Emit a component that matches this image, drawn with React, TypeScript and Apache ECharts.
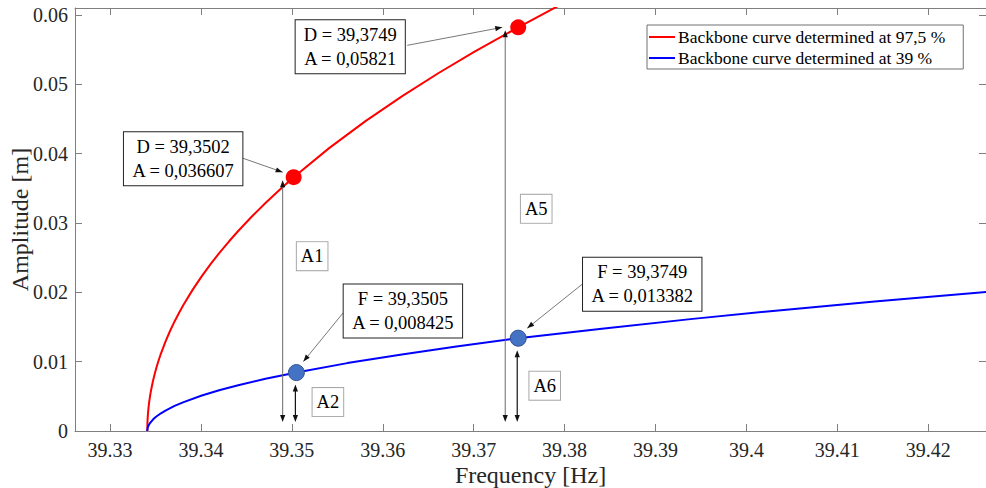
import React, { useEffect, useRef } from "react";
import * as echarts from "echarts";

const FONT = "Liberation Serif";

// Axis extents and tick positions
const xRange = [39.32615, 39.42635];
const yRange = [0, 0.061];
const xTicks = [39.33, 39.34, 39.35, 39.36, 39.37, 39.38, 39.39, 39.4, 39.41, 39.42];
const yTicks = [0, 0.01, 0.02, 0.03, 0.04, 0.05, 0.06];

// Backbone curve at 97,5 %
const redName = "Backbone curve determined at 97,5 %";
const redFreq = [
  39.3341, 39.33412, 39.33415, 39.3342, 39.33425, 39.3343, 39.3344, 39.3345, 39.3347, 39.3349,
  39.3351, 39.3353, 39.3356, 39.3361, 39.3366, 39.3371, 39.3376, 39.3381, 39.3391, 39.3401,
  39.3411, 39.3421, 39.3431, 39.3441, 39.3456, 39.3471, 39.3486, 39.3502, 39.3541, 39.3581,
  39.3621, 39.3661, 39.3701, 39.3749, 39.3801,
];
const redAmp = [
  0, 0.00129, 0.00204, 0.00288, 0.00353, 0.00408, 0.005, 0.00577, 0.00706, 0.00816,
  0.00912, 0.00999, 0.01117, 0.0129, 0.01442, 0.0158, 0.01706, 0.01824, 0.02039, 0.02234,
  0.02413, 0.0258, 0.02736, 0.02884, 0.03093, 0.03288, 0.03473, 0.036607, 0.04079, 0.04468,
  0.04826, 0.05159, 0.05472, 0.05821, 0.06186,
];

// Backbone curve at 39 %
const blueName = "Backbone curve determined at 39 %";
const blueFreq = [
  39.3341, 39.33412, 39.33415, 39.3342, 39.3343, 39.3344, 39.3347, 39.3349, 39.3351, 39.3356,
  39.3361, 39.3371, 39.3381, 39.3401, 39.3421, 39.3441, 39.3471, 39.3505, 39.3561, 39.3621,
  39.3681, 39.3749, 39.3841, 39.3941, 39.4041, 39.4141, 39.4265,
];
const blueAmp = [
  0, 0.000295, 0.000467, 0.00066, 0.000933, 0.00114, 0.00162, 0.001867, 0.00209, 0.002556,
  0.00295, 0.003615, 0.00417, 0.00511, 0.005903, 0.0066, 0.007525, 0.008425, 0.00979, 0.01104,
  0.01217, 0.013382, 0.01476, 0.01617, 0.01746, 0.01867, 0.02005,
];

// Highlighted points
const redPointD = [39.3502, 39.3749];
const redPointA = [0.036607, 0.05821];
const bluePointF = [39.3505, 39.3749];
const bluePointA = [0.008425, 0.013382];
const redTags = ["A1", "A5"];
const blueTags = ["A2", "A6"];

const comma = (v: number) => String(v).replace(".", ",");
const tickText = (v: number) => String(parseFloat(Number(v).toFixed(4)));

const AXIS_COLOR = "#7f7f7f";
const LABEL_COLOR = "#262626";

function head(tx: number, ty: number, fx: number, fy: number, len = 7, half = 2.6) {
  const dx = tx - fx;
  const dy = ty - fy;
  const l = Math.hypot(dx, dy) || 1;
  const ux = dx / l;
  const uy = dy / l;
  return {
    type: "polygon",
    silent: true,
    z: 20,
    shape: {
      points: [
        [tx, ty],
        [tx - ux * len - uy * half, ty - uy * len + ux * half],
        [tx - ux * len + uy * half, ty - uy * len - ux * half],
      ],
    },
    style: { fill: "#111" },
  };
}

function seg(x1: number, y1: number, x2: number, y2: number, color: string, w: number) {
  return {
    type: "line",
    silent: true,
    z: 19,
    shape: { x1, y1, x2, y2 },
    style: { stroke: color, lineWidth: w },
  };
}

function box(cx: number, cy: number, text: string, border: string, padding: number[], lh: number) {
  return {
    type: "text",
    x: cx,
    y: cy,
    z: 21,
    silent: true,
    style: {
      text,
      font: `18.5px ${FONT}`,
      fill: "#000",
      align: "center",
      verticalAlign: "middle",
      lineHeight: lh,
      backgroundColor: "#fff",
      borderColor: border,
      borderWidth: 1,
      padding,
    },
  };
}

export default function App() {
  const ref = useRef<HTMLDivElement>(null);

  useEffect(() => {
    if (!ref.current) return;
    const chart = echarts.init(ref.current, undefined, { renderer: "svg" });

    const tickStyle = (values: number[]) => ({
      show: true,
      inside: true,
      length: 7,
      customValues: values,
      lineStyle: { color: AXIS_COLOR, width: 1 },
    });

    const valueAxis = (extra: any) => ({
      type: "value",
      splitLine: { show: false },
      nameMoveOverlap: false,
      axisLine: { show: true, onZero: false, lineStyle: { color: AXIS_COLOR, width: 1 } },
      ...extra,
    });

    const labelStyle = {
      fontFamily: FONT,
      fontSize: 20,
      color: LABEL_COLOR,
      formatter: tickText,
    };

    chart.setOption({
      animation: false,
      backgroundColor: "#fff",
      textStyle: { fontFamily: FONT },
      grid: { left: 75, right: 0, top: 8, bottom: 57, containLabel: false, outerBoundsMode: "none" },
      legend: {
        data: [redName, blueName],
        orient: "vertical",
        left: 647,
        top: 25,
        padding: [1.5, 18, 0.5, 2],
        itemGap: 0,
        itemWidth: 26,
        itemHeight: 2,
        icon: "rect",
        backgroundColor: "#fff",
        borderColor: "#707070",
        borderWidth: 1,
        borderRadius: 0,
        textStyle: { fontFamily: FONT, fontSize: 17.5, color: "#000", lineHeight: 21, padding: [0, 0, 0, -2] },
      },
      xAxis: [
        valueAxis({
          min: xRange[0],
          max: xRange[1],
          interval: 0.01,
          name: "Frequency [Hz]",
          nameLocation: "middle",
          nameGap: 32,
          nameTextStyle: { fontFamily: FONT, fontSize: 24, color: LABEL_COLOR, verticalAlign: "top" },
          axisTick: tickStyle(xTicks),
          axisLabel: { ...labelStyle, customValues: xTicks, margin: 9 },
        }),
        valueAxis({
          min: xRange[0],
          max: xRange[1],
          interval: 0.01,
          position: "top",
          axisTick: tickStyle(xTicks),
          axisLabel: { show: false },
        }),
      ],
      yAxis: [
        valueAxis({
          min: yRange[0],
          max: yRange[1],
          interval: 0.01,
          name: "Amplitude [m]",
          nameLocation: "middle",
          nameGap: 43,
          nameTextStyle: { fontFamily: FONT, fontSize: 24, color: LABEL_COLOR },
          axisTick: tickStyle(yTicks),
          axisLabel: { ...labelStyle, customValues: yTicks, margin: 7 },
        }),
        valueAxis({
          min: yRange[0],
          max: yRange[1],
          interval: 0.01,
          position: "right",
          axisTick: tickStyle(yTicks),
          axisLabel: { show: false },
        }),
      ],
      series: [
        {
          name: redName,
          type: "line",
          symbol: "none",
          data: redFreq.map((f, i) => [f, redAmp[i]]),
          lineStyle: { color: "#ff0000", width: 2 },
          itemStyle: { color: "#ff0000" },
          z: 3,
        },
        {
          name: blueName,
          type: "line",
          symbol: "none",
          data: blueFreq.map((f, i) => [f, blueAmp[i]]),
          lineStyle: { color: "#0000ff", width: 2 },
          itemStyle: { color: "#0000ff" },
          z: 3,
        },
        {
          name: "D points",
          type: "scatter",
          symbol: "circle",
          symbolSize: 16,
          data: redPointD.map((d, i) => [d, redPointA[i]]),
          itemStyle: { color: "#ff0000", opacity: 1 },
          z: 5,
        },
        {
          name: "F points",
          type: "scatter",
          symbol: "circle",
          symbolSize: 16,
          data: bluePointF.map((f, i) => [f, bluePointA[i]]),
          itemStyle: { color: "#4472c4", borderColor: "#2f528f", borderWidth: 1, opacity: 1 },
          z: 5,
        },
      ],
    });

    // Annotations placed relative to the highlighted points
    const px = (x: number, y: number) =>
      chart.convertToPixel({ xAxisIndex: 0, yAxisIndex: 0 }, [x, y]) as number[];
    const base = px(xRange[0], 0)[1];
    const g: any[] = [];

    const redBoxOffsets = [
      { bx: -110.5, by: -18.5, sx: -51, sy: -19, tx: -11, ty: -5 },
      { bx: -168, by: 19.5, sx: -111, sy: 18, tx: -16, ty: 0 },
    ];
    const redTagOffsets = [
      { dx: 18.5, dy: 79, lx: -11 },
      { dx: 18, dy: 181.5, lx: -13 },
    ];
    redPointD.forEach((d, i) => {
      const [mx, my] = px(d, redPointA[i]);
      const o = redBoxOffsets[i];
      g.push(box(mx + o.bx, my + o.by, `D = ${comma(d)}\nA = ${comma(redPointA[i])}`, "#222", [3, 8, 2, 8], 24));
      g.push(seg(mx + o.sx, my + o.sy, mx + o.tx, my + o.ty, "#555", 0.8));
      g.push(head(mx + o.tx, my + o.ty, mx + o.sx, my + o.sy));
      // long double arrow from the point down to the axis
      const t = redTagOffsets[i];
      const lx = mx + t.lx;
      const top = my + 3;
      const bot = base - 9;
      g.push(seg(lx, top + 5, lx, bot - 5, "#6a6a6a", 1));
      g.push(head(lx, top, lx, top + 10));
      g.push(head(lx, bot, lx, bot - 10));
      g.push(box(mx + t.dx, my + t.dy, redTags[i], "#a8a8a8", [3, 4, 3, 4], 22));
    });

    const blueBoxOffsets = [
      { bx: 106.5, by: -61.5, sx: 47, sy: -60, tx: 7, ty: -11 },
      { bx: 124, by: -54, sx: 64, sy: -54, tx: 9, ty: -10 },
    ];
    const blueTagOffsets = [
      { dx: 31.5, dy: 29.5 },
      { dx: 26.5, dy: 47.5 },
    ];
    bluePointF.forEach((f, i) => {
      const [mx, my] = px(f, bluePointA[i]);
      const o = blueBoxOffsets[i];
      g.push(box(mx + o.bx, my + o.by, `F = ${comma(f)}\nA = ${comma(bluePointA[i])}`, "#222", [3, 8, 2, 8], 24));
      g.push(seg(mx + o.sx, my + o.sy, mx + o.tx, my + o.ty, "#555", 0.8));
      g.push(head(mx + o.tx, my + o.ty, mx + o.sx, my + o.sy));
      // short double arrow between the point and the axis
      const lx = mx - 1;
      const top = my + 12;
      const bot = base - 9;
      g.push(seg(lx, top + 5, lx, bot - 5, "#111", 1.2));
      g.push(head(lx, top, lx, top + 10));
      g.push(head(lx, bot, lx, bot - 10));
      const t = blueTagOffsets[i];
      g.push(box(mx + t.dx, my + t.dy, blueTags[i], "#a8a8a8", [3, 4, 3, 4], 22));
    });

    chart.setOption({ graphic: g });

    return () => chart.dispose();
  }, []);

  return (
    <div
      ref={ref}
      style={{ position: "fixed", left: 0, top: 0, width: 986, height: 488, background: "#fff" }}
    />
  );
}
